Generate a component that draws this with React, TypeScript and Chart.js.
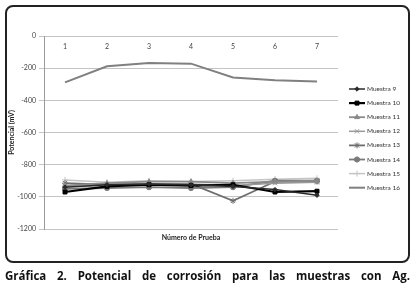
import React, { useEffect, useRef } from 'react';
import { Chart, registerables } from 'chart.js';
import { drawPoint } from 'chart.js/helpers';

Chart.register(...registerables);

const categories = ['1', '2', '3', '4', '5', '6', '7'];
const seriesNames = ['Muestra 9', 'Muestra 10', 'Muestra 11', 'Muestra 12', 'Muestra 13', 'Muestra 14', 'Muestra 15', 'Muestra 16'];
const m9 = [-940, -925, -920, -925, -935, -955, -990];
const m10 = [-970, -935, -925, -930, -925, -970, -965];
const m11 = [-930, -915, -905, -905, -915, -905, -900];
const m12 = [-935, -930, -920, -920, -930, -915, -910];
const m13 = [-915, -925, -920, -920, -1025, -905, -905];
const m14 = [-950, -945, -940, -945, -940, -900, -900];
const m15 = [-895, -910, -900, -905, -900, -890, -885];
const m16 = [-288, -188, -168, -172, -258, -275, -283];
const yTicks = [0, -200, -400, -600, -800, -1000, -1200];
const yTitle = 'Potencial (mV)';
const xTitle = 'Número de Prueba';
const caption = 'Gráfica 2. Potencial de corrosión para las muestras con Ag.';

const FONT = 'Lato, "Open Sans", sans-serif';
const CAPTION_FONT = '"Open Sans", Lato, sans-serif';

const styles = [
  { color: '#2a2a2a', width: 1.5, point: 'rectRot', radius: 2.2 },
  { color: '#000000', width: 2.2, point: 'rect', radius: 2.8 },
  { color: '#8a8a8a', width: 1.8, point: 'triangle', radius: 2.8 },
  { color: '#9a9a9a', width: 1.5, point: 'crossRot', radius: 3 },
  { color: '#6e6e6e', width: 1.8, point: 'star', radius: 3 },
  { color: '#7a7a7a', width: 1.8, point: 'circle', radius: 2.6 },
  { color: '#c4c4c4', width: 1.5, point: 'cross', radius: 3 },
  { color: '#808080', width: 2, point: false, radius: 0 },
];

const seriesData = [m9, m10, m11, m12, m13, m14, m15, m16];

const overlayPlugin = {
  id: 'overlay',
  afterDraw(chart: any) {
    const ctx = chart.ctx;
    const ca = chart.chartArea;
    ctx.save();
    ctx.font = `bold 7px ${FONT}`;
    ctx.fillStyle = '#222';
    ctx.textAlign = 'center';
    ctx.textBaseline = 'middle';
    ctx.fillText(xTitle, (ca.left + ca.right) / 2, ca.bottom + 9);
    chart.data.datasets.forEach((ds: any, i: number) => {
      const y = 89 + i * 14.1;
      ctx.strokeStyle = ds.borderColor;
      ctx.lineWidth = ds.borderWidth;
      ctx.beginPath();
      ctx.moveTo(349, y);
      ctx.lineTo(365, y);
      ctx.stroke();
      if (ds.pointStyle && ds.pointRadius > 0) {
        ctx.fillStyle = ds.pointBackgroundColor;
        ctx.strokeStyle = ds.pointBorderColor;
        ctx.lineWidth = 1;
        drawPoint(ctx, { pointStyle: ds.pointStyle, radius: ds.pointRadius, borderWidth: 1, rotation: 0 }, 357, y);
      }
      ctx.font = `6.5px ${FONT}`;
      ctx.fillStyle = '#333';
      ctx.textAlign = 'left';
      ctx.textBaseline = 'middle';
      ctx.fillText(ds.label, 367, y);
    });
    ctx.restore();
  },
};

export default function App() {
  const canvasRef = useRef<HTMLCanvasElement | null>(null);

  useEffect(() => {
    if (!canvasRef.current) return;
    Chart.defaults.font.family = FONT;
    const chart = new Chart(canvasRef.current, {
      type: 'line',
      data: {
        labels: categories,
        datasets: seriesData.map((d, i) => ({
          label: seriesNames[i],
          data: d,
          borderColor: styles[i].color,
          borderWidth: styles[i].width,
          pointStyle: styles[i].point as any,
          pointRadius: styles[i].radius,
          pointBackgroundColor: styles[i].color,
          pointBorderColor: styles[i].color,
          pointBorderWidth: 1,
          tension: 0,
          fill: false,
        })),
      },
      options: {
        animation: false,
        responsive: false,
        maintainAspectRatio: false,
        layout: { padding: { left: 6, right: 78, top: 36, bottom: 33 } },
        plugins: { legend: { display: false }, tooltip: { enabled: false } },
        scales: {
          x: {
            type: 'category',
            offset: true,
            position: { y: 0 } as any,
            grid: { display: false, drawTicks: false, offset: true },
            border: { display: false },
            ticks: { font: { size: 7 }, color: '#444', padding: 7 },
          },
          y: {
            min: -1200,
            max: 0,
            afterFit: (scale: any) => { scale.width = 38; },
            afterBuildTicks: (scale: any) => { scale.ticks = yTicks.map((v) => ({ value: v })); },
            ticks: { font: { size: 7 }, color: '#444', padding: 3, callback: (v: any) => String(v) },
            grid: { color: '#c4c4c4', lineWidth: 1, tickLength: 5 },
            border: { display: true, color: '#9a9a9a' },
            title: { display: true, text: yTitle, font: { size: 7, weight: 'bold' }, color: '#222', padding: { top: 2, bottom: 0 } },
          },
        },
      },
      plugins: [overlayPlugin],
    });
    return () => chart.destroy();
  }, []);

  return (
    <div style={{ position: 'fixed', left: 0, top: 0, width: 416, height: 293, background: '#fff' }}>
      <canvas ref={canvasRef} width={416} height={262} style={{ position: 'absolute', left: 0, top: 0, width: 416, height: 262 }} />
      <div style={{ position: 'absolute', left: 5, top: 5, width: 405, height: 258, border: '2px solid #222', borderRadius: 8, boxSizing: 'border-box', pointerEvents: 'none' }} />
      <div style={{ position: 'absolute', left: 5, top: 268, width: 405, fontFamily: CAPTION_FONT, fontWeight: 'bold', fontSize: 11.5, color: '#111', textAlign: 'justify', textAlignLast: 'justify' as any, whiteSpace: 'nowrap' as any, lineHeight: '16px' }}>
        {caption}
      </div>
    </div>
  );
}
